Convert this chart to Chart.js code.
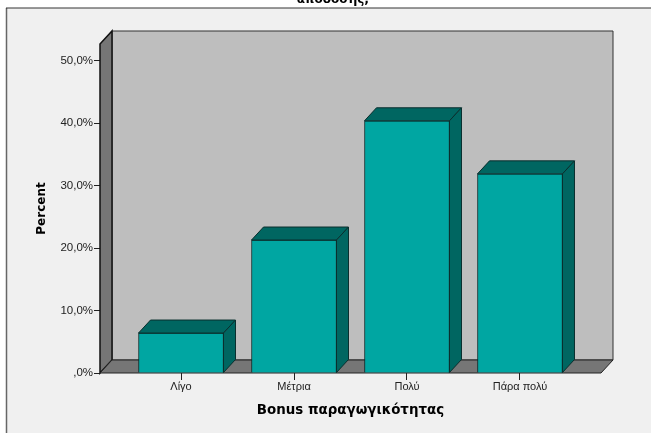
<!DOCTYPE html>
<html>
<head>
<meta charset="utf-8">
<style>
  html, body { margin: 0; padding: 0; background: #fff; }
  #wrap { width: 651px; height: 433px; }
</style>
<script src="https://cdn.jsdelivr.net/npm/chart.js@4/dist/chart.umd.min.js"></script>
</head>
<body>
<div id="wrap"><canvas id="grafico" width="651" height="433"></canvas></div>
<script>
const categories = ['Λίγο', 'Μέτρια', 'Πολύ', 'Πάρα πολύ'];
const percentValues = [6.4, 21.3, 40.4, 31.9];
const percentTicks = [0, 10, 20, 30, 40, 50];
const yTop = 52.7;
const heading = 'απόδοσης;';

const depthX = 12;
const depthY = 13;

function poly(ctx, pts, fill, stroke, width) {
    ctx.beginPath();
    pts.forEach((p, i) => i ? ctx.lineTo(p[0], p[1]) : ctx.moveTo(p[0], p[1]));
    ctx.closePath();
    ctx.fillStyle = fill;
    ctx.fill();
    ctx.lineWidth = width;
    ctx.strokeStyle = stroke;
    ctx.stroke();
}

// gray panel behind everything, with the heading cut off by the top edge
const panel = {
    id: 'panel',
    beforeDraw(chart) {
        const ctx = chart.ctx;
        ctx.save();
        ctx.fillStyle = '#f0f0f0';
        ctx.fillRect(6, 8, 645, 425);
        ctx.strokeStyle = '#666';
        ctx.lineWidth = 1.5;
        ctx.beginPath();
        ctx.moveTo(6.5, 433);
        ctx.lineTo(6.5, 8);
        ctx.stroke();
        ctx.strokeStyle = '#333';
        ctx.lineWidth = 1;
        ctx.beginPath();
        ctx.moveTo(6, 8);
        ctx.lineTo(651, 8);
        ctx.stroke();
        ctx.fillStyle = '#000';
        ctx.font = 'bold 12px "DejaVu Sans"';
        ctx.textAlign = 'center';
        ctx.textBaseline = 'alphabetic';
        ctx.fillText(heading, 333, 3);
        ctx.restore();
    }
};

// back wall, side wall and floor of the 3d box
const box = {
    id: 'box',
    beforeDatasetsDraw(chart) {
        const { ctx, chartArea: a } = chart;
        ctx.save();
        poly(ctx, [[a.left + depthX, a.top - depthY], [a.right + depthX, a.top - depthY], [a.right + depthX, a.bottom - depthY], [a.left + depthX, a.bottom - depthY]], '#bebebe', '#333', 1);
        poly(ctx, [[a.left, a.top], [a.left + depthX, a.top - depthY], [a.left + depthX, a.bottom - depthY], [a.left, a.bottom]], '#767676', '#111', 1.5);
        poly(ctx, [[a.left, a.bottom], [a.left + depthX, a.bottom - depthY], [a.right + depthX, a.bottom - depthY], [a.right, a.bottom]], '#767676', '#222', 1);
        ctx.restore();
    }
};

// top and side face of every bar, taken from the bar elements
const barDepth = {
    id: 'barDepth',
    afterDatasetsDraw(chart) {
        const ctx = chart.ctx;
        ctx.save();
        chart.getDatasetMeta(0).data.forEach(el => {
            const l = el.x - el.width / 2, r = el.x + el.width / 2;
            poly(ctx, [[l, el.y], [l + depthX, el.y - depthY], [r + depthX, el.y - depthY], [r, el.y]], '#006661', '#0a2f2e', 1);
            poly(ctx, [[r, el.y], [r + depthX, el.y - depthY], [r + depthX, el.base - depthY], [r, el.base]], '#006661', '#0a2f2e', 1);
        });
        ctx.restore();
    }
};

new Chart('grafico', {
    type: 'bar',
    data: {
        datasets: [{
            data: percentValues.map((v, i) => ({ x: i, y: v })),
            backgroundColor: '#00a6a2',
            borderColor: '#0a2f2e',
            borderWidth: 1,
            barThickness: 85
        }]
    },
    plugins: [panel, box, barDepth],
    options: {
        responsive: false,
        animation: false,
        layout: { padding: { top: 44, right: 50 } },
        plugins: {
            legend: { display: false },
            tooltip: { enabled: false },
            title: { display: false }
        },
        scales: {
            x: {
                type: 'linear',
                offset: false,
                min: -0.717,
                max: 3.717,
                grid: { offset: false, drawOnChartArea: false, tickLength: 7, tickColor: '#222' },
                border: { display: false },
                afterBuildTicks(scale) {
                    scale.ticks = categories.map((c, i) => ({ value: i }));
                },
                afterFit(scale) { scale.height = 60; },
                ticks: {
                    autoSkip: false,
                    maxRotation: 0,
                    padding: 0,
                    color: '#222',
                    font: { family: 'Liberation Sans', size: 11 },
                    callback: v => categories[v]
                },
                title: {
                    display: true,
                    text: 'Bonus παραγωγικότητας',
                    color: '#000',
                    padding: { top: 6, bottom: 14 },
                    font: { family: 'DejaVu Sans', size: 13.4, weight: 'bold' }
                }
            },
            y: {
                min: 0,
                max: yTop,
                afterBuildTicks(scale) {
                    scale.ticks = percentTicks.map(v => ({ value: v }));
                },
                afterFit(scale) { scale.width = 100; },
                grid: { drawOnChartArea: false, tickLength: 6, tickColor: '#222' },
                border: { display: false },
                ticks: {
                    color: '#222',
                    padding: 1,
                    font: { family: 'Liberation Sans', size: 11.5 },
                    callback: v => v === 0 ? ',0%' : v.toFixed(1).replace('.', ',') + '%'
                },
                title: {
                    display: true,
                    text: 'Percent',
                    color: '#000',
                    padding: { top: 35, bottom: 0 },
                    font: { family: 'DejaVu Sans', size: 12, weight: 'bold' }
                }
            }
        }
    }
});
</script>
</body>
</html>
